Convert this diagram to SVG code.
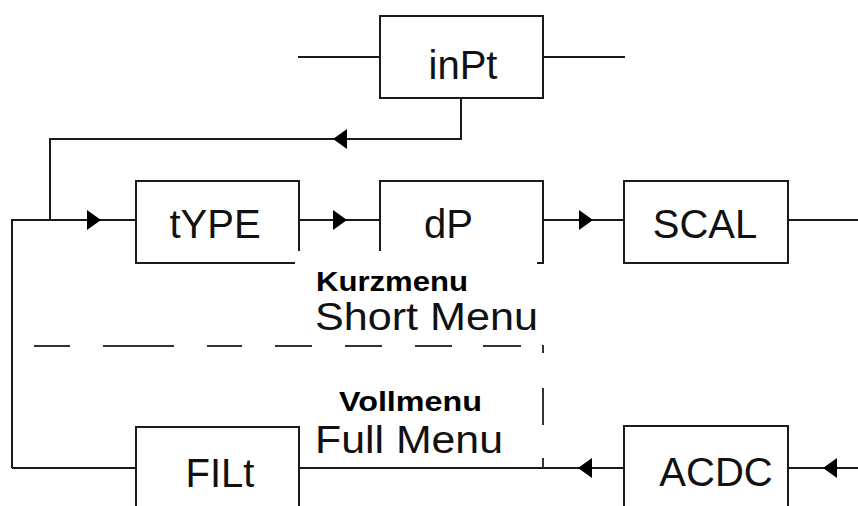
<svg xmlns="http://www.w3.org/2000/svg" xmlns:xlink="http://www.w3.org/1999/xlink" width="858" height="506" viewBox="0 0 858 506">
  <style>
    .box { fill: #ffffff; stroke: #1a1a1a; stroke-width: 2; }
    .edge { fill: none; stroke: #1a1a1a; stroke-width: 2; }
    .dash { fill: none; stroke: #333333; stroke-width: 2; }
    .lbl { font-family: "Liberation Sans", Arial, sans-serif; font-size: 40px; fill: #111111; }
    .bold { font-family: "Liberation Sans", Arial, sans-serif; font-size: 27px; font-weight: bold; fill: #000000; }
    .menu { font-family: "Liberation Sans", Arial, sans-serif; font-size: 39px; fill: #111111; }
  </style>
  <defs>
    <path id="arrR" d="M0,0 L-14,-10 L-14,10 Z" fill="#000000"/>
    <path id="arrL" d="M0,0 L14,-10 L14,10 Z" fill="#000000"/>
  </defs>
  <rect width="858" height="506" fill="#ffffff"/>

  <g id="connectors">
    <path class="edge" d="M298,57 H380"/>
    <path class="edge" d="M543,57 H625"/>
    <path class="edge" d="M461,98 V139 H50 V220"/>
    <path class="edge" d="M12,468 V220 H136"/>
    <path class="edge" d="M299,220 H380"/>
    <path class="edge" d="M543,220 H624"/>
    <path class="edge" d="M788,220 H858"/>
    <path class="edge" d="M136,468 H12"/>
    <path class="edge" d="M299,468 H624"/>
    <path class="edge" d="M788,468 H858"/>
    <use xlink:href="#arrL" x="333" y="139"/>
    <use xlink:href="#arrR" x="101" y="220"/>
    <use xlink:href="#arrR" x="347" y="220"/>
    <use xlink:href="#arrR" x="593" y="220"/>
    <use xlink:href="#arrL" x="578" y="468"/>
    <use xlink:href="#arrL" x="823" y="468"/>
  </g>

  <g id="inPt">
    <rect class="box" x="380" y="16" width="163" height="82"/>
    <text class="lbl" x="463" y="79" text-anchor="middle" font-size="41">inPt</text>
  </g>
  <g id="tYPE">
    <rect class="box" x="136" y="181" width="163" height="82"/>
    <text class="lbl" x="215" y="238" text-anchor="middle" font-size="41">tYPE</text>
  </g>
  <g id="dP">
    <rect class="box" x="380" y="181" width="163" height="82"/>
    <text class="lbl" x="424" y="238" font-size="41">dP</text>
  </g>
  <g id="SCAL">
    <rect class="box" x="624" y="181" width="164" height="82"/>
    <text class="lbl" x="705" y="238" text-anchor="middle">SCAL</text>
  </g>
  <g id="FILt">
    <rect class="box" x="136" y="427" width="163" height="90"/>
    <text class="lbl" x="220" y="487" text-anchor="middle">FILt</text>
  </g>
  <g id="ACDC">
    <rect class="box" x="624" y="426" width="164" height="90"/>
    <text class="lbl" x="716" y="486" text-anchor="middle" font-size="42">ACDC</text>
  </g>

  <g id="menu-divider">
    <rect x="295" y="251" width="242" height="90" fill="#ffffff"/>
    <path class="dash" d="M34,346 H70 M103,346 H174 M207,346 H242 M275,346 H312 M345,346 H382 M415,346 H452 M483,346 H521"/>
    <path class="dash" d="M543,345 V353 M543,388 V425 M543,458 V468"/>
    <text class="bold" x="316" y="291" textLength="152" lengthAdjust="spacingAndGlyphs">Kurzmenu</text>
    <text class="menu" x="315" y="330" textLength="223" lengthAdjust="spacingAndGlyphs">Short Menu</text>
    <text class="bold" x="339" y="411" textLength="143" lengthAdjust="spacingAndGlyphs">Vollmenu</text>
    <text class="menu" x="315" y="453" textLength="188" lengthAdjust="spacingAndGlyphs">Full Menu</text>
  </g>
</svg>
